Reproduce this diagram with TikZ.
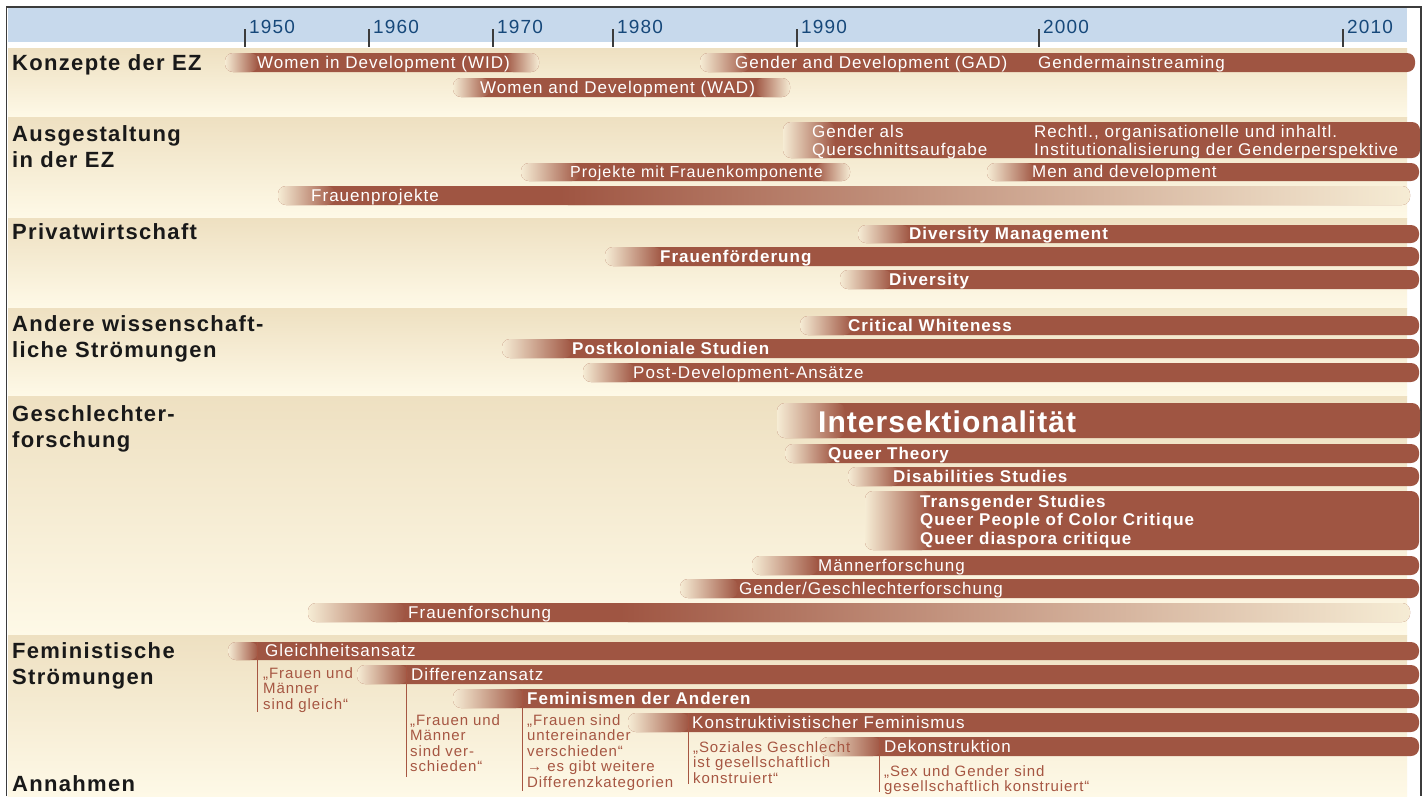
\documentclass[tikz,border=0pt]{standalone}
\usepackage{fontspec}
\setmainfont{Liberation Sans}[LetterSpace=6]
\usetikzlibrary{positioning}

\definecolor{barc}{RGB}{159,85,66}
\definecolor{bgtop}{RGB}{238,224,193}
\definecolor{bgbot}{RGB}{254,249,231}
\definecolor{bandc}{RGB}{199,217,236}
\definecolor{yearc}{RGB}{22,72,122}
\definecolor{annc}{RGB}{166,86,66}
\definecolor{framec}{RGB}{60,60,60}
\colorlet{fadec}{barc!3!bgtop!45!bgbot}

\tikzset{
  head/.style={font=\fontsize{22}{26}\selectfont\bfseries, text=black!90, inner sep=0, align=left},
  year/.style={font=\fontsize{19}{22}\selectfont, text=yearc, inner sep=0, anchor=base west},
  bartext/.style={font=\fontsize{17}{18.5}\selectfont, text=white, inner sep=0, anchor=base west, align=left},
  barbold/.style={bartext, font=\fontsize{17}{18.5}\selectfont\bfseries},
  anntext/.style={font=\fontsize{15}{15.6}\selectfont, text=annc, inner sep=0, anchor=north west, align=left},
  annline/.style={annc, line width=1pt},
  tick/.style={framec, line width=1.2pt},
  section/.style={top color=bgtop, bottom color=bgbot},
}

% bar: start, end of fade, end, top, bottom
\newcommand{\zbar}[5]{%
  \fill[barc, rounded corners=8pt] (#1,#4) rectangle (#3,#5);
  \shade[left color=fadec, right color=barc, rounded corners=8pt] (#1,#4) rectangle (#2,#5);}
% bar fading out: start, end of fade in, start of fade out, end, top, bottom
\newcommand{\zbarff}[6]{%
  \fill[barc, rounded corners=8pt] (#1,#5) rectangle (#4,#6);
  \shade[left color=fadec, right color=barc, rounded corners=8pt] (#1,#5) rectangle (#2,#6);
  \shade[left color=barc, right color=fadec, rounded corners=8pt] (#3,#5) rectangle (#4,#6);}

\begin{document}
\begin{tikzpicture}[x=1pt, y=-1pt]
\useasboundingbox (0,0) rectangle (1426,796);
\fill[white] (0,0) rectangle (1426,796);

% background
\fill[bandc] (8,8) rectangle (1407,42);
\shade[section] (8,48) rectangle (1407,117);
\shade[section] (8,117) rectangle (1407,218);
\shade[section] (8,218) rectangle (1407,308);
\shade[section] (8,308) rectangle (1407,396);
\shade[section] (8,396) rectangle (1407,635);
\shade[section] (8,635) rectangle (1407,796);
\draw[framec, line width=1.5pt] (6.5,796) -- (6.5,7) -- (1421,7) -- (1421,796);

% years
\foreach \x/\yr in {245/1950, 369/1960, 493/1970, 613/1980, 797/1990, 1039/2000, 1343/2010} {
  \draw[tick] (\x,29) -- (\x,47);
  \node[year] (y\yr) at (\x+4,33) {\yr};
}

% section labels
\node[head, anchor=base west] (konzepte) at (12,70) {Konzepte der EZ};
\node[head, anchor=north west] (ausgestaltung) at (12,125) {Ausgestaltung\\in der EZ};
\node[head, anchor=base west] (privat) at (12,239) {Privatwirtschaft};
\node[head, anchor=north west] (andere) at (12,315) {Andere wissenschaft-\\liche Strömungen};
\node[head, anchor=north west] (geschlecht) at (12,405) {Geschlechter-\\forschung};
\node[head, anchor=north west] (feministisch) at (12,642) {Feministische\\Strömungen};
\node[head, anchor=base west] (annahmen) at (12,791) {Annahmen};

% Konzepte der EZ
\zbarff{225}{258}{505}{539}{53}{72}
\zbar{700}{750}{1415}{53}{72}
\zbarff{453}{490}{755}{790}{78}{97}
\node[bartext] (wid) at (257,68.5) {Women in Development (WID)};
\node[bartext] (gad) at (735,68.5) {Gender and Development (GAD)};
\node[bartext] (gm) at (1038,68.5) {Gendermainstreaming};
\node[bartext] (wad) at (480,93.5) {Women and Development (WAD)};

% Ausgestaltung in der EZ
\zbar{783}{835}{1420}{122}{158}
\zbarff{521}{580}{815}{850}{163}{181}
\zbar{987}{1035}{1419}{163}{181}
\zbarff{278}{335}{560}{1410}{186}{205}
\node[bartext, anchor=north west] (querschnitt) at (812,124.5) {Gender als\\Querschnittsaufgabe};
\node[bartext, anchor=north west] (recht) at (1034,124.5) {Rechtl., organisationelle und inhaltl.\\Institutionalisierung der Genderperspektive};
\node[bartext, font=\fontsize{16}{18}\selectfont] (projekte) at (570,177) {Projekte mit Frauenkomponente};
\node[bartext] (men) at (1032,177) {Men and development};
\node[bartext] (fprojekte) at (311,201) {Frauenprojekte};

% Privatwirtschaft
\zbar{858}{910}{1419}{225}{243}
\zbar{605}{662}{1419}{247}{266}
\zbar{840}{892}{1419}{270}{289}
\node[barbold] (divman) at (909,239.5) {Diversity Management};
\node[barbold] (ffoerd) at (660,262) {Frauenförderung};
\node[barbold] (diversity) at (889,285) {Diversity};

% Andere wissenschaftliche Stroemungen
\zbar{800}{852}{1419}{316}{335}
\zbar{502}{572}{1419}{339}{358}
\zbar{583}{635}{1419}{363}{382}
\node[barbold] (critwhite) at (848,331) {Critical Whiteness};
\node[barbold] (postkol) at (572,354) {Postkoloniale Studien};
\node[bartext] (postdev) at (633,378) {Post-Development-Ansätze};

% Geschlechterforschung
\zbar{777}{845}{1420}{403}{438}
\zbar{785}{835}{1419}{444}{463}
\zbar{848}{900}{1419}{467}{486}
\zbar{865}{930}{1419}{491}{550}
\zbar{752}{818}{1419}{556}{575}
\zbar{680}{738}{1419}{579}{598}
\zbarff{308}{405}{620}{1410}{603}{622}
\node[barbold, font=\fontsize{30}{32}\selectfont\bfseries\addfontfeatures{LetterSpace=3.5}] (intersekt) at (818,432) {Intersektionalität};
\node[barbold] (queer) at (828,459) {Queer Theory};
\node[barbold] (disab) at (893,482) {Disabilities Studies};
\node[barbold, anchor=north west] (trans) at (920,494.5) {Transgender Studies\\Queer People of Color Critique\\Queer diaspora critique};
\node[bartext] (maenner) at (818,571) {Männerforschung};
\node[bartext] (gender) at (739,594) {Gender/Geschlechterforschung};
\node[bartext] (fforsch) at (408,618) {Frauenforschung};

% Feministische Stroemungen
\zbar{228}{258}{1419}{642}{660}
\zbar{357}{408}{1419}{665}{684}
\zbar{453}{524}{1419}{689}{708}
\zbar{628}{689}{1419}{713}{732}
\zbar{820}{881}{1419}{737}{756}
\node[bartext] (gleich) at (265,656) {Gleichheitsansatz};
\node[bartext] (differenz) at (411,680) {Differenzansatz};
\node[barbold] (anderen) at (527,704) {Feminismen der Anderen};
\node[bartext] (konstr) at (692,728) {Konstruktivistischer Feminismus};
\node[bartext] (dekonstr) at (884,752) {Dekonstruktion};

% Annahmen
\node[anntext] (gleich-a) at (263,667) {„Frauen und\\Männer\\sind gleich“};
\node[anntext] (differenz-a) at (410,714) {„Frauen und\\Männer\\sind ver-\\schieden“};
\node[anntext] (anderen-a) at (527,714) {„Frauen sind\\untereinander\\verschieden“\\→ es gibt weitere\\Differenzkategorien};
\node[anntext] (konstr-a) at (693,741) {„Soziales Geschlecht\\ist gesellschaftlich\\konstruiert“};
\node[anntext] (dekonstr-a) at (884,765) {„Sex und Gender sind\\gesellschaftlich konstruiert“};

\coordinate (gleich-t) at (257,642);
\coordinate (gleich-b) at (257,712);
\coordinate (differenz-t) at (406,665);
\coordinate (differenz-b) at (406,777);
\coordinate (anderen-t) at (522,689);
\coordinate (anderen-b) at (522,791);
\coordinate (konstr-t) at (688,713);
\coordinate (konstr-b) at (688,784);
\coordinate (dekonstr-t) at (879,737);
\coordinate (dekonstr-b) at (879,792);
\draw[annline] (gleich-t) -- (gleich-b);
\draw[annline] (differenz-t) -- (differenz-b);
\draw[annline] (anderen-t) -- (anderen-b);
\draw[annline] (konstr-t) -- (konstr-b);
\draw[annline] (dekonstr-t) -- (dekonstr-b);
\end{tikzpicture}
\end{document}
